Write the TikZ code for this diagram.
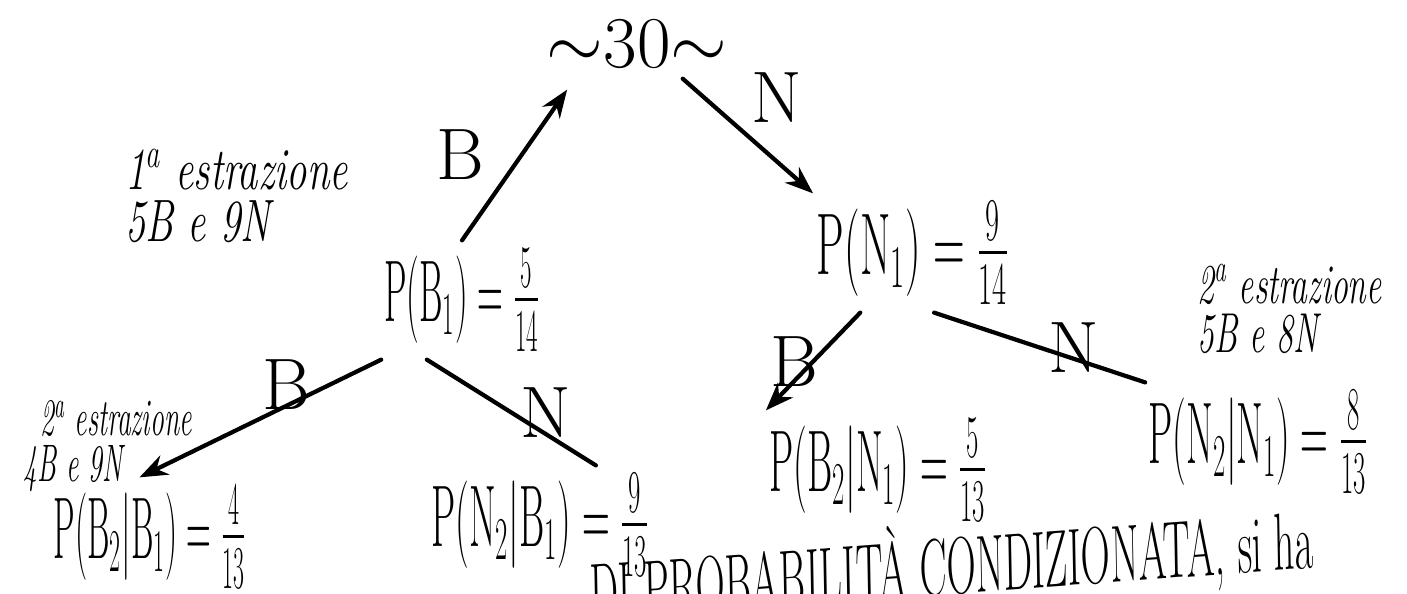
\documentclass[tikz,border=0pt]{standalone}
\usepackage{amsmath,amssymb}
\usepackage{tikz}
\usetikzlibrary{arrows.meta,positioning}

\begin{document}
\begin{tikzpicture}[x=0.01cm, y=-0.01cm,
  prob/.style={font=\fontsize{23}{27}\selectfont, inner sep=2pt, xscale=0.44, transform shape},
  lbl/.style={font=\huge, inner sep=0pt},
  note/.style={font=\fontsize{17}{15}\selectfont\itshape, align=left, inner sep=0pt, xscale=0.68, transform shape},
  edge/.style={line width=1.2pt, line cap=round},
  tip/.style={edge, -{Stealth[length=8pt, width=6pt]}}]
\useasboundingbox (0,0) rectangle (1407,593);
% Root
\node[lbl] (root) at (637,44) {$\sim$30$\sim$};
% First draw
\node[prob, xscale=0.93] (b1) at (462,300) {$\mathrm{P}(\mathrm{B}_1)=\frac{5}{14}$};
\node[prob, xscale=1.14] (n1) at (913,253) {$\mathrm{P}(\mathrm{N}_1)=\frac{9}{14}$};
% Second draw
\node[prob, xscale=0.89] (b2b1) at (150,537) {$\mathrm{P}(\mathrm{B}_2|\mathrm{B}_1)=\frac{4}{13}$};
\node[prob] (n2b1) at (540,525) {$\mathrm{P}(\mathrm{N}_2|\mathrm{B}_1)=\frac{9}{13}$};
\node[prob] (b2n1) at (878,470) {$\mathrm{P}(\mathrm{B}_2|\mathrm{N}_1)=\frac{5}{13}$};
\node[prob] (n2n1) at (1258,442) {$\mathrm{P}(\mathrm{N}_2|\mathrm{N}_1)=\frac{8}{13}$};
% Branches
\draw[tip, shorten >=7pt] (b1.north) -- ([xshift=10pt]root.south west) node[lbl, midway, left=10pt] (eb1) {B};
\draw[tip, shorten <=4pt] ([xshift=10pt]root.south) -- (n1.north west) node[lbl, midway, above right=2pt and 2pt] (en1) {N};
\draw[tip] (b1.south west) -- ([xshift=-3pt]b2b1.north) node[lbl, midway, above right=2pt and 0pt] (eb2b1) {B};
\draw[edge] ([xshift=-10pt]b1.south) -- ([xshift=-16pt]n2b1.north east) node[lbl, midway, right=2pt] (en2b1) {N};
\draw[tip] ([xshift=-15pt]n1.south) -- (b2n1.north west) node[lbl, midway, left=-2pt] (eb2n1) {B};
\draw[edge] ([xshift=6pt]n1.south) -- (n2n1.north west) node[lbl, midway, right=2pt] (en2n1) {N};
% Notes
\node[note, anchor=north west] (draw1) at (125,148) {1\textsuperscript{a} estrazione\\5B e 9N};
\node[note, font=\fontsize{15}{13}\selectfont\itshape, xscale=0.77, anchor=north west] (draw2l) at (40,400) {2\textsuperscript{a} estrazione\\\hspace*{-9pt}4B e 9N};
\node[note, font=\fontsize{16}{14}\selectfont\itshape, xscale=0.88, anchor=north west] (draw2r) at (1197,263) {2\textsuperscript{a} estrazione\\5B e 8N};
% Text below
\node[lbl, font=\fontsize{23}{27}\selectfont, anchor=base west, xscale=0.5, rotate=2.1, transform shape] (cond) at (590,621) {DI PROBABILITÀ CONDIZIONATA, si ha};
\end{tikzpicture}
\end{document}
